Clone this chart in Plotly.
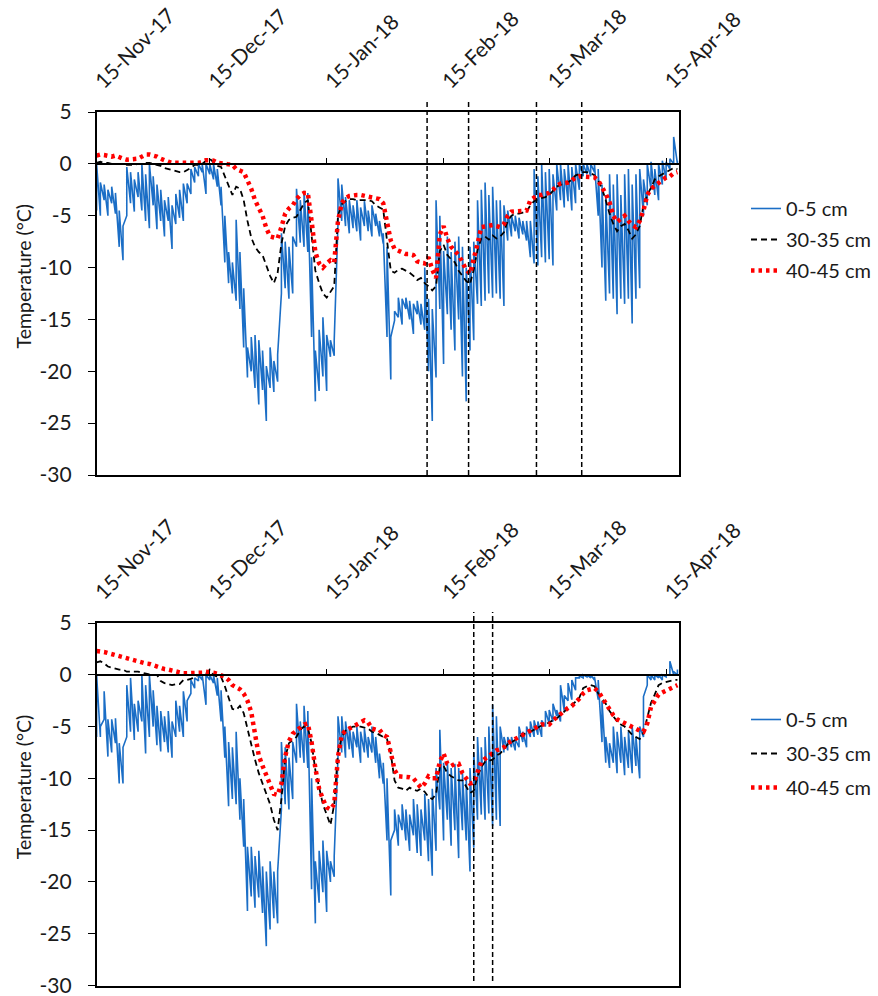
import pandas as pd
import plotly.graph_objects as go

# ---------------- data ----------------
START = "2017-11-15"
N_DAYS = 155
days = list(pd.date_range(START, periods=N_DAYS, freq="D"))

TICK_DATES = ["2017-11-15", "2017-12-15", "2018-01-15", "2018-02-15", "2018-03-15", "2018-04-15"]
TICK_TEXT = ["15-Nov-17", "15-Dec-17", "15-Jan-18", "15-Feb-18", "15-Mar-18", "15-Apr-18"]

Y_TICKS = [-30, -25, -20, -15, -10, -5, 0, 5]
Y_TICK_TEXT = ["-30", "-25", "-20", "-15", "-10", "-5", "0", "5"]

EVENTS_TOP = ["2018-02-10 15:00", "2018-02-21 15:00", "2018-03-11 15:00", "2018-03-23 15:00"]
EVENTS_BOT = ["2018-02-23", "2018-02-28"]

# --- top panel ---
red_top = [0.8, 0.9, 0.85, 0.75, 0.7, 0.8, 0.6, 0.5, 0.4, 0.4,
           0.45, 0.5, 0.7, 0.9, 0.9, 0.85, 0.7, 0.5, 0.3, 0.2,
           0.1, 0.1, 0.1, 0.05, 0.1, 0.1, 0.1, 0.1, 0.2, 0.35,
           0.35, 0.3, 0.1, 0.0, 0.0, -0.05, -0.1, -0.5, -0.6, -0.8,
           -1.6, -2.4, -3.5, -4.2, -5.0, -6.2, -7.0, -7.1, -7.2, -6.1,
           -4.8, -4.3, -4.0, -3.4, -3.0, -2.8, -2.8, -5.5, -8.5, -9.6,
           -10.0, -9.6, -9.3, -9.5, -5.5, -3.8, -3.3, -3.1, -3.0, -3.0,
           -3.0, -3.1, -3.2, -3.3, -3.3, -3.4, -3.8, -5.5, -7.4, -8.2,
           -8.4, -8.5, -8.7, -8.7, -8.8, -9.4, -9.5, -9.6, -9.0, -10.2,
           -11.0, -6.8, -6.0, -7.2, -8.0, -8.4, -8.8, -9.5, -10.2, -10.6,
           -9.3, -7.7, -6.1, -6.0, -5.9, -5.9, -6.0, -6.1, -5.8, -5.0,
           -4.6, -4.6, -4.6, -4.6, -4.5, -3.5, -3.3, -3.0, -3.0, -2.9,
           -2.8, -2.5, -2.1, -1.9, -1.9, -1.8, -1.6, -1.3, -1.2, -1.2,
           -1.2, -1.2, -1.3, -1.6, -2.2, -2.9, -3.7, -5.0, -5.6, -5.3,
           -5.0, -5.5, -5.9, -6.1, -5.5, -4.5, -3.0, -2.4, -2.1, -1.9,
           -1.6, -1.3, -1.2, -0.9, -0.8]

black_top = [0.1, 0.2, 0.1, 0.1, 0.0, 0.0, 0.0, 0.0, -0.1, -0.1,
             -0.1, 0.0, 0.0, 0.1, 0.1, 0.0, -0.1, -0.2, -0.4, -0.5,
             -0.6, -0.7, -0.8, -0.8, -0.6, -0.4, -0.1, -0.1, 0.0, 0.3,
             0.5, 0.1, -0.2, -0.3, -1.2, -2.2, -3.0, -2.2, -2.4, -3.5,
             -5.5, -7.1, -8.0, -8.5, -8.8, -9.8, -10.8, -11.5, -10.5, -7.7,
             -6.0, -5.4, -5.2, -5.1, -4.5, -3.8, -3.5, -6.7, -10.3, -11.5,
             -12.5, -12.9, -12.3, -11.8, -5.0, -3.9, -3.6, -3.4, -3.4, -3.5,
             -3.5, -3.5, -3.5, -3.6, -4.0, -4.2, -4.4, -7.4, -10.3, -10.5,
             -10.2, -10.1, -10.3, -10.5, -10.8, -11.2, -11.0, -11.5, -11.8, -12.2,
             -11.8, -8.4, -7.8, -8.8, -9.2, -9.5, -10.3, -10.8, -11.3, -11.6,
             -10.2, -8.3, -7.2, -7.0, -7.3, -6.9, -7.2, -7.0, -6.6, -5.5,
             -5.0, -4.8, -4.8, -4.7, -4.6, -4.0, -3.6, -3.4, -3.3, -3.2,
             -3.0, -2.6, -2.2, -2.0, -2.0, -1.8, -1.5, -1.1, -1.0, -0.8,
             -0.8, -0.9, -1.1, -1.6, -2.4, -3.5, -4.8, -5.8, -6.5, -6.0,
             -5.8, -6.4, -7.2, -6.8, -6.0, -4.0, -3.0, -2.3, -1.5, -1.2,
             -1.0, -0.8, -0.6, -0.4, -0.5]

blue_top_lo = [-4.5, -5.0, -3.5, -5.0, -3.8, -4.8, -8.0, -9.3, -5.0, -3.8,
               -4.6, -3.2, -4.5, -5.5, -6.2, -4.0, -6.3, -5.5, -7.0, -5.5,
               -8.2, -5.8, -5.2, -5.5, -3.8, -2.9, -1.8, -1.2, -0.8, -2.9,
               -1.0, -1.5, -2.2, -4.0, -9.5, -11.5, -12.5, -13.2, -14.0, -17.7,
               -20.6, -20.0, -21.6, -23.2, -21.8, -24.8, -21.6, -22.0, -21.0, -12.5,
               -12.0, -13.0, -12.5, -8.0, -7.6, -8.0, -8.5, -16.7, -22.9, -21.9,
               -20.5, -21.9, -18.6, -18.5, -5.8, -5.5, -6.0, -6.7, -6.2, -6.5,
               -7.4, -6.0, -6.5, -7.0, -6.0, -7.0, -7.7, -16.7, -20.8, -15.1,
               -14.8, -15.5, -14.0, -15.0, -16.4, -14.5, -15.5, -16.0, -20.0, -24.8,
               -20.6, -14.0, -19.3, -14.5, -16.0, -18.0, -15.0, -20.5, -22.9, -18.0,
               -17.0, -13.5, -13.7, -13.2, -12.5, -12.9, -12.5, -13.0, -13.7, -7.4,
               -7.0, -6.5, -7.2, -6.8, -7.4, -9.0, -9.6, -9.8, -9.0, -9.5,
               -9.2, -9.8, -4.5, -3.5, -4.2, -3.6, -4.5, -3.8, -2.5, -1.2,
               -1.0, -1.2, -0.8, -5.0, -10.0, -13.2, -12.5, -13.0, -14.5, -13.0,
               -13.5, -13.0, -15.4, -13.0, -12.0, -5.0, -4.0, -2.5, -3.0, -3.5,
               -2.0, -1.5, -0.5, 0.0, 0.0]

blue_top_hi = [0.0, -1.8, -2.0, -2.5, -2.2, -2.8, -4.5, -6.0, -0.3, -0.8,
               -1.5, -0.8, 0.0, -1.0, 0.0, -1.2, -2.0, -2.5, -3.5, -3.2,
               -4.0, -2.9, -2.5, -1.9, -1.9, -0.5, -0.3, 0.0, 0.0, 0.0,
               0.0, 0.0, -0.5, -2.2, -5.0, -8.5, -9.5, -5.4, -8.5, -12.0,
               -17.7, -16.7, -16.5, -17.0, -18.0, -19.5, -17.7, -19.0, -18.4, -6.7,
               -7.5, -8.0, -7.0, -2.4, -3.5, -2.6, -2.8, -9.0, -18.0, -16.0,
               -14.8, -16.5, -17.0, -17.0, -1.4, -2.0, -3.2, -3.5, -4.0, -3.5,
               -4.2, -3.6, -4.5, -4.0, -4.8, -5.5, -6.7, -8.0, -16.7, -14.2,
               -12.9, -13.0, -12.9, -13.2, -13.5, -13.2, -13.5, -10.0, -13.0, -14.0,
               -3.5, -5.0, -8.4, -7.0, -8.5, -7.5, -7.0, -8.0, -10.0, -8.0,
               -7.5, -3.5, -2.5, -1.8, -3.0, -2.2, -3.5, -3.5, -4.0, -4.5,
               -5.0, -5.0, -5.2, -5.5, -5.5, -5.5, -0.5, -1.2, 0.0, -0.8,
               -0.5, -1.0, 0.0, 0.0, -0.5, 0.0, -0.3, 0.0, 0.0, 0.0,
               0.0, 0.0, 0.0, -0.5, -2.0, -3.0, -1.0, -2.0, -1.0, -3.0,
               -1.0, -0.5, -2.0, -1.0, -0.5, -1.5, 0.0, 0.2, -0.5, 0.0,
               0.3, 0.2, 0.5, 2.6, 0.3]

# --- bottom panel ---
red_bot = [2.3, 2.3, 2.2, 2.1, 2.0, 1.9, 1.8, 1.6, 1.55, 1.45,
           1.4, 1.3, 1.2, 1.1, 1.05, 0.9, 0.8, 0.65, 0.55, 0.5,
           0.4, 0.3, 0.25, 0.15, 0.15, 0.15, 0.15, 0.2, 0.2, 0.3,
           0.3, 0.2, 0.1, 0.0, -0.2, -0.5, -1.0, -1.2, -1.4, -1.8,
           -2.5, -3.6, -5.9, -7.8, -8.8, -9.8, -10.8, -11.5, -11.6, -10.5,
           -7.9, -6.4, -5.7, -5.4, -5.0, -4.8, -4.7, -6.5, -9.0, -11.0,
           -12.0, -12.8, -13.0, -12.5, -7.9, -5.8, -5.4, -5.2, -5.0, -4.8,
           -4.5, -4.4, -4.6, -5.2, -5.3, -5.3, -5.8, -6.0, -7.5, -9.2,
           -9.8, -9.8, -9.8, -9.9, -10.0, -10.5, -10.9, -10.5, -9.8, -10.0,
           -10.0, -8.4, -7.6, -8.6, -8.8, -8.6, -8.6, -9.5, -10.0, -10.5,
           -10.4, -9.5, -8.4, -8.1, -7.8, -7.6, -7.3, -7.2, -7.0, -6.6,
           -6.4, -6.1, -5.9, -5.8, -5.5, -5.4, -5.2, -5.0, -4.8, -4.8,
           -4.8, -4.4, -4.1, -3.8, -3.4, -3.2, -3.0, -2.7, -2.3, -1.8,
           -1.5, -1.4, -1.3, -1.6, -2.2, -2.8, -3.3, -3.9, -4.3, -4.5,
           -4.6, -4.8, -5.0, -5.2, -5.4, -5.5, -4.7, -3.1, -2.4, -1.9,
           -1.7, -1.5, -1.3, -1.1, -1.0]

black_bot = [1.2, 1.3, 1.1, 0.8, 0.7, 0.6, 0.5, 0.5, 0.3, 0.3,
             0.3, 0.3, 0.2, 0.1, 0.05, 0.0, 0.0, -0.6, -0.8, -0.9,
             -1.0, -0.9, -0.9, -0.5, -0.5, -0.4, -0.2, 0.0, 0.0, 0.1,
             0.5, 0.0, -0.2, -0.2, -1.1, -2.1, -3.3, -3.4, -3.0, -3.7,
             -5.3, -6.6, -8.2, -9.5, -10.5, -11.5, -12.5, -14.0, -15.0, -12.0,
             -8.0, -6.6, -6.3, -6.0, -5.3, -5.0, -5.1, -6.6, -9.2, -11.0,
             -12.5, -13.5, -14.5, -12.5, -7.5, -6.0, -5.4, -5.2, -5.0, -5.0,
             -5.0, -5.1, -5.2, -5.5, -5.6, -5.8, -6.0, -6.2, -7.6, -10.2,
             -10.9, -11.0, -11.2, -10.9, -11.1, -11.2, -11.0, -11.3, -11.8, -12.0,
             -11.5, -8.9, -8.8, -9.5, -9.8, -10.0, -10.2, -10.2, -10.8, -11.4,
             -11.2, -9.8, -8.9, -8.4, -8.3, -8.2, -7.8, -7.6, -7.2, -6.7,
             -6.5, -6.3, -6.0, -5.8, -5.6, -5.5, -5.3, -5.1, -4.9, -4.8,
             -4.6, -4.4, -4.2, -3.9, -3.5, -3.2, -2.9, -2.6, -2.2, -1.3,
             -1.1, -1.0, -1.1, -1.8, -2.3, -2.8, -3.5, -4.0, -4.5, -4.8,
             -5.0, -5.4, -5.8, -6.0, -6.2, -5.6, -4.0, -2.7, -1.9, -1.0,
             -0.8, -0.7, -0.6, -0.5, -0.5]

blue_bot_lo = [-6.0, -6.0, -4.3, -7.9, -7.5, -6.6, -10.5, -10.5, -6.0, -5.5,
               -6.3, -5.5, -4.5, -7.6, -6.0, -5.0, -6.8, -7.4, -6.5, -7.5,
               -8.0, -6.0, -5.5, -6.0, -4.5, -1.8, -1.3, -0.6, -0.5, -2.9,
               -0.5, -0.8, -2.0, -4.5, -8.0, -12.7, -12.0, -12.5, -14.0, -16.6,
               -22.8, -21.4, -22.5, -21.5, -23.0, -26.2, -24.6, -23.5, -24.0, -13.0,
               -12.5, -13.0, -12.0, -8.5, -8.0, -8.5, -9.0, -20.7, -24.0, -22.0,
               -21.0, -22.9, -20.0, -19.5, -8.0, -7.5, -8.0, -7.2, -8.0, -7.0,
               -8.5, -7.5, -8.0, -7.5, -8.5, -10.0, -10.5, -16.0, -21.3, -15.0,
               -16.5, -15.0, -16.0, -17.0, -15.5, -17.2, -17.5, -16.0, -18.0, -19.4,
               -17.0, -13.0, -16.0, -14.0, -16.5, -15.0, -17.7, -15.0, -16.0, -19.0,
               -16.7, -14.0, -13.5, -14.0, -13.4, -14.6, -14.0, -14.6, -7.5, -7.3,
               -7.0, -7.3, -7.0, -6.5, -7.0, -6.0, -6.0, -5.8, -6.0, -5.0,
               -4.7, -4.5, -4.0, -4.5, -3.5, -2.5, -2.4, -1.5, -0.3, -0.3,
               -0.2, -0.3, -0.5, -2.4, -6.5, -8.5, -9.0, -8.5, -9.5, -8.5,
               -9.7, -9.0, -9.5, -8.8, -10.0, -6.0, -1.0, -0.5, -0.5, -0.3,
               -0.5, -0.2, 0.0, 0.0, 0.0]

blue_bot_hi = [0.0, -5.0, -1.6, -4.3, -4.3, -4.2, -6.6, -7.0, -1.0, -0.3,
               -2.8, -2.5, 0.0, -1.0, 0.0, -1.5, -3.0, -3.5, -4.0, -3.5,
               -4.5, -2.5, -3.0, -1.6, -2.5, -0.5, -0.3, 0.0, 0.0, 0.0,
               0.0, 0.0, -0.3, -1.5, -5.0, -6.5, -7.0, -5.5, -10.0, -12.0,
               -16.6, -16.6, -17.5, -17.0, -18.5, -19.0, -18.0, -19.0, -19.0, -6.5,
               -7.0, -8.0, -6.5, -2.8, -4.5, -3.0, -3.5, -10.0, -18.0, -17.0,
               -16.0, -17.0, -18.0, -17.5, -4.0, -4.0, -4.5, -5.0, -5.5, -5.0,
               -5.5, -5.2, -6.0, -5.0, -6.0, -7.6, -8.5, -10.0, -16.0, -13.0,
               -13.5, -12.5, -13.0, -13.5, -12.0, -12.5, -13.0, -11.5, -12.0, -11.0,
               -9.0, -5.3, -8.5, -8.4, -9.0, -8.6, -9.0, -9.5, -10.0, -9.0,
               -7.5, -6.0, -7.0, -6.0, -5.0, -2.9, -4.0, -5.0, -6.0, -6.0,
               -6.0, -6.2, -5.0, -5.5, -5.0, -4.5, -4.4, -4.5, -4.4, -3.5,
               -3.4, -2.8, -3.4, -1.0, -2.0, -0.8, -0.5, -0.3, -0.1, 0.0,
               0.0, 0.0, -0.2, -0.5, -2.5, -6.0, -6.6, -5.0, -5.5, -5.0,
               -6.0, -5.5, -5.0, -6.0, -5.0, -2.1, 0.0, 0.0, 0.0, 0.0,
               0.0, 0.0, 1.3, 0.3, 0.5]

NAMES = ["0-5 cm", "30-35 cm", "40-45 cm"]

# ---------------- styling / layout helpers ----------------
W, H = 878, 996
BLUE = "#1b6ec6"
RED = "#ff0000"
TXT = "#1a1a1a"
FONT = "Lato"

def fx(px):
    return px / W

def fy(py):
    return 1 - py / H

X_LEFT, X_RIGHT = 96.6, 679.0
PANELS = {
    "top": dict(y_top=112.0, y_bot=475.0),
    "bot": dict(y_top=623.0, y_bot=985.5),
}
Y_MIN, Y_MAX = -30, 5
X_RANGE = ["2017-11-15", "2018-04-18 10:00"]


def interleave(lo, hi):
    xs, ys = [], []
    for d, a, b in zip(days, lo, hi):
        xs += [d, d]
        ys += [a, b]
    return xs, ys


fig = go.Figure()

def add_panel(lo, hi, black, red, xa, xz, ya, leg):
    bx, by = interleave(lo, hi)
    fig.add_trace(go.Scatter(x=bx, y=by, mode="lines", name=NAMES[0],
                             line=dict(color=BLUE, width=1.6),
                             xaxis=xa, yaxis=ya, legend=leg, legendgroup=leg + "a"))
    fig.add_trace(go.Scatter(x=days, y=black, mode="lines", name=NAMES[1],
                             line=dict(color="black", width=1.8, dash="6px,4px"),
                             xaxis=xz, yaxis=ya, legend=leg, legendgroup=leg + "b"))
    fig.add_trace(go.Scatter(x=days, y=red, mode="lines", name=NAMES[2],
                             line=dict(color=RED, width=4.5, dash="3.5px,4px"),
                             xaxis=xz, yaxis=ya, legend=leg, legendgroup=leg + "c"))

add_panel(blue_top_lo, blue_top_hi, black_top, red_top, "x", "x3", "y", "legend")
add_panel(blue_bot_lo, blue_bot_hi, black_bot, red_bot, "x2", "x4", "y2", "legend2")

layout = dict(
    width=W, height=H,
    margin=dict(l=0, r=0, t=0, b=0, autoexpand=False),
    paper_bgcolor="white", plot_bgcolor="white",
    font=dict(family=FONT, color=TXT, size=20),
    showlegend=True,
)

def x_main(dom_anchor):
    return dict(
        type="date", range=X_RANGE, domain=[fx(X_LEFT), fx(X_RIGHT)],
        anchor=dom_anchor, side="top", automargin=False,
        tickmode="array", tickvals=TICK_DATES, ticktext=TICK_TEXT,
        tickangle=-45, tickfont=dict(size=21, family=FONT, color=TXT),
        ticks="", ticklabelstandoff=9, ticklabeloverflow="allow",
        showgrid=False, zeroline=False,
        showline=True, linecolor="black", linewidth=1.5, mirror=True,
    )

def x_zero(base, pos):
    return dict(
        type="date", range=X_RANGE, overlaying=base, anchor="free",
        position=pos, side="top", automargin=False,
        tickmode="array", tickvals=TICK_DATES, showticklabels=False,
        ticks="outside", ticklen=5, tickwidth=1.2, tickcolor="black",
        showgrid=False, zeroline=False,
        showline=True, linecolor="black", linewidth=1.5,
    )

def y_axis(p, anchor):
    return dict(
        range=[Y_MIN, Y_MAX], domain=[fy(p["y_bot"]), fy(p["y_top"])],
        anchor=anchor, automargin=False,
        tickmode="array", tickvals=Y_TICKS, ticktext=Y_TICK_TEXT,
        ticks="outside", ticklen=7, tickwidth=1.2, tickcolor="black",
        ticklabelstandoff=12, ticklabeloverflow="allow",
        tickfont=dict(size=21, family=FONT, color=TXT),
        showgrid=False, zeroline=False,
        showline=True, linecolor="black", linewidth=1.5, mirror=True,
    )

def zero_pos(p):
    b, t = fy(p["y_bot"]), fy(p["y_top"])
    return b + (t - b) * (0 - Y_MIN) / (Y_MAX - Y_MIN)

layout["xaxis"] = x_main("y")
layout["xaxis2"] = x_main("y2")
layout["xaxis3"] = x_zero("x", zero_pos(PANELS["top"]))
layout["xaxis4"] = x_zero("x2", zero_pos(PANELS["bot"]))
layout["yaxis"] = y_axis(PANELS["top"], "x")
layout["yaxis2"] = y_axis(PANELS["bot"], "x2")

legend_style = dict(xanchor="left", yanchor="top", bgcolor="rgba(0,0,0,0)",
                    font=dict(size=20, family=FONT, color=TXT),
                    traceorder="grouped")
layout["legend"] = dict(x=fx(746), y=fy(189), tracegroupgap=2, **legend_style)
layout["legend2"] = dict(x=fx(746), y=fy(700), tracegroupgap=5, **legend_style)

fig.update_layout(**layout)

# vertical dashed event lines
for xv in EVENTS_TOP:
    fig.add_shape(type="line", xref="x", yref="paper", x0=xv, x1=xv,
                  y0=fy(PANELS["top"]["y_bot"]), y1=fy(100),
                  line=dict(color="black", width=1.5, dash="5px,3px"))
for xv in EVENTS_BOT:
    fig.add_shape(type="line", xref="x2", yref="paper", x0=xv, x1=xv,
                  y0=fy(981), y1=fy(612),
                  line=dict(color="black", width=1.5, dash="5px,3px"))

# y-axis titles
for p in PANELS.values():
    fig.add_annotation(text="Temperature (°C)", xref="paper", yref="paper",
                       x=fx(23), y=fy((p["y_top"] + p["y_bot"]) / 2 - 17),
                       xanchor="center", yanchor="middle",
                       textangle=-90, showarrow=False,
                       font=dict(size=19.5, family=FONT, color=TXT))

fig.write_html("out.html", config={"displayModeBar": False},
               post_script="document.body.style.margin='0px';")
